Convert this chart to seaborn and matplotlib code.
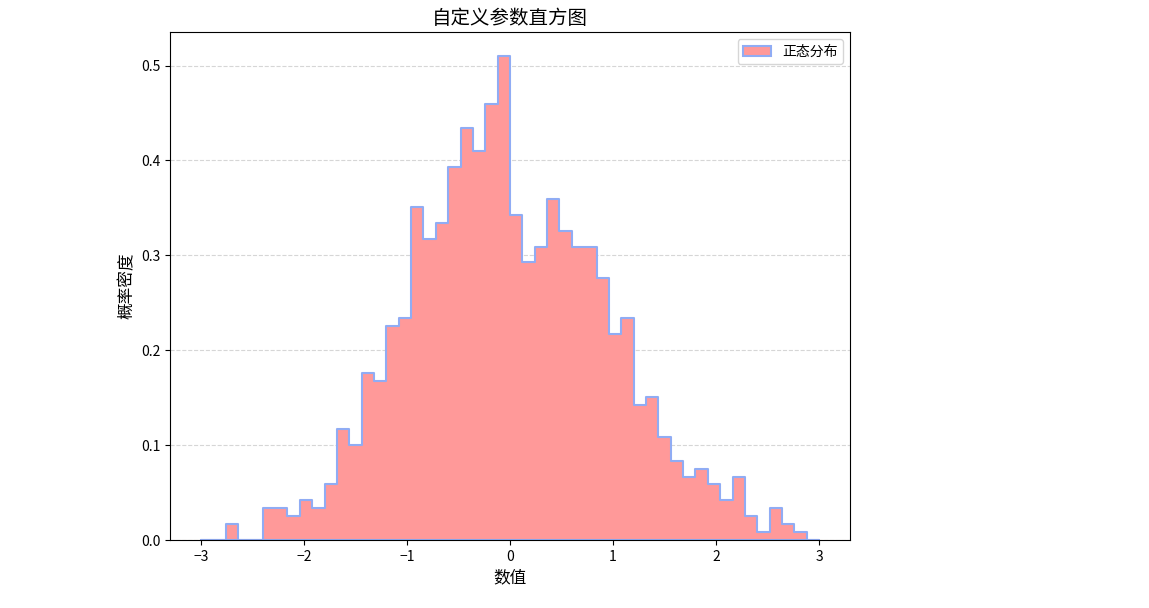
import seaborn as sns
import matplotlib.pyplot as plt
import numpy as np
import pandas as pd

plt.rcParams['font.family'] = ['Noto Sans CJK SC', 'DejaVu Sans']

# 50 bins over [-3, 3], counts (N = 1000)
bin_edges = np.linspace(-3, 3, 51)
counts = [0, 0, 2, 0, 0, 4, 4, 3, 5, 4,
          7, 14, 12, 21, 20, 27, 28, 42, 38, 40,
          47, 52, 49, 55, 61, 41, 35, 37, 43, 39,
          37, 37, 33, 26, 28, 17, 18, 13, 10, 8,
          9, 7, 5, 8, 3, 1, 4, 2, 1, 0]

data = pd.DataFrame({
    "值": (bin_edges[:-1] + bin_edges[1:]) / 2,
    "次数": counts,
})

fig = plt.figure(figsize=(11.49, 6.08), dpi=100)
ax = fig.add_axes([170 / 1149, 1 - 540 / 608, 680 / 1149, 508 / 608])

sns.histplot(data=data, x="值", weights="次数", bins=50, binrange=(-3, 3),
             stat="density", element="step", fill=True, color="#ff9999",
             alpha=1.0, edgecolor="#90acf4", linewidth=1.5,
             label="正态分布", ax=ax)

ax.grid(axis="y", linestyle="--", color="#cccccc", alpha=0.8)
ax.set_axisbelow(True)
ax.set_title("自定义参数直方图", fontsize=14)
ax.set_xlabel("数值", fontsize=12)
ax.set_ylabel("概率密度", fontsize=12)
ax.set_xticks([-3, -2, -1, 0, 1, 2, 3])
ax.set_yticks([0.0, 0.1, 0.2, 0.3, 0.4, 0.5])
ax.legend(loc="upper right")

fig.savefig("out.png", dpi=100)
